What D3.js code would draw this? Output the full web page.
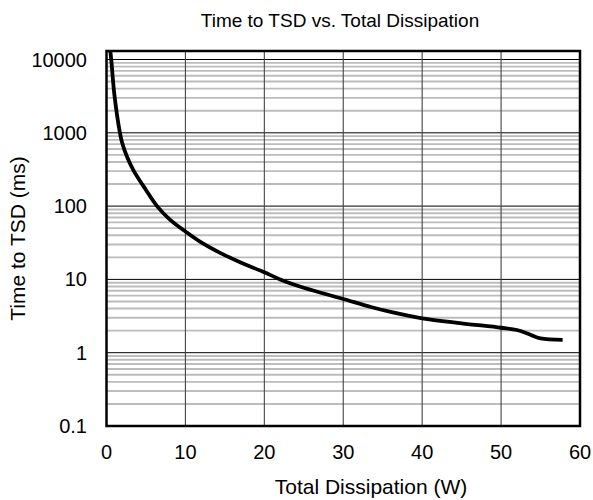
<!DOCTYPE html>
<html><head><meta charset="utf-8">
<script src="https://cdn.jsdelivr.net/npm/d3@7/dist/d3.min.js"></script>
<style>body{margin:0;background:#fff;} text{font-family:"Liberation Sans",Arial,sans-serif;fill:#000;}</style>
</head><body><svg id="c" width="593" height="500"></svg>
<script>
const power = [0.45, 0.6, 1.0, 1.7, 2.0, 2.6, 3.4, 5.0, 6.4, 8.0, 10, 12, 14.4, 17, 20, 22, 25, 30, 33.5, 36, 40, 45, 50, 52, 53.5, 55, 57.8];
const timeMs = [14000, 10000, 3300, 1000, 720, 470, 310, 166, 100, 66, 45, 32, 23, 17, 12.5, 10, 7.7, 5.4, 4.2, 3.6, 2.95, 2.52, 2.19, 2.04, 1.8, 1.57, 1.5];
const xTicks = [0, 10, 20, 30, 40, 50, 60];
const yTicks = [0.1, 1, 10, 100, 1000, 10000];
const yTickLabels = ["0.1", "1", "10", "100", "1000", "10000"];

const svg = d3.select("#c");
const L = 106.5, R = 580, B = 426, T = 51;
const x = d3.scaleLinear().domain([0, 60]).range([L, R]);
const decade = 73.3;
const y = d3.scaleLog().domain([0.1, 10000]).range([B, B - 5 * decade]);

// minor grid
const minors = [];
for (let d = 0.1; d < 10000; d *= 10) for (let k = 2; k <= 9; k++) minors.push(d * k);
svg.append("g").selectAll("line").data(minors).join("line")
  .attr("x1", L).attr("x2", R).attr("y1", d => y(d)).attr("y2", d => y(d))
  .attr("stroke", "#bcbcbc").attr("stroke-width", 1.9);
// major horizontal grid
svg.append("g").selectAll("line").data(yTicks.slice(1)).join("line")
  .attr("x1", L).attr("x2", R).attr("y1", d => y(d)).attr("y2", d => y(d))
  .attr("stroke", "#000").attr("stroke-width", 1);
// vertical grid
svg.append("g").selectAll("line").data(xTicks.slice(1, -1)).join("line")
  .attr("x1", d => x(d)).attr("x2", d => x(d)).attr("y1", T).attr("y2", B)
  .attr("stroke", "#444").attr("stroke-width", 1.1);

// curve
svg.append("clipPath").attr("id", "clip").append("rect")
  .attr("x", L).attr("y", T).attr("width", R - L).attr("height", B - T);
const line = d3.line().x((d, i) => x(power[i])).y((d, i) => y(timeMs[i])).curve(d3.curveCatmullRom.alpha(0.5));
svg.append("path").datum(power).attr("d", line).attr("clip-path", "url(#clip)")
  .attr("fill", "none").attr("stroke", "#000").attr("stroke-width", 3.8)
  .attr("stroke-linejoin", "round").attr("stroke-linecap", "butt");

// border
svg.append("rect").attr("x", L).attr("y", T).attr("width", R - L).attr("height", B - T)
  .attr("fill", "none").attr("stroke", "#000").attr("stroke-width", 2.5);

// tick labels
svg.append("g").selectAll("text").data(xTicks).join("text")
  .attr("x", d => x(d)).attr("y", 459).attr("text-anchor", "middle")
  .attr("font-size", 20).text(d => d);
svg.append("g").selectAll("text").data(yTicks).join("text")
  .attr("x", 87).attr("y", d => y(d) + 7).attr("text-anchor", "end")
  .attr("font-size", 20).text((d, i) => yTickLabels[i]);

svg.append("text").attr("x", 340).attr("y", 27).attr("text-anchor", "middle")
  .attr("font-size", 19).text("Time to TSD vs. Total Dissipation");
svg.append("text").attr("x", 371).attr("y", 494).attr("text-anchor", "middle")
  .attr("font-size", 21).text("Total Dissipation (W)");
svg.append("text").attr("transform", "translate(25,238.5) rotate(-90)").attr("text-anchor", "middle")
  .attr("font-size", 21).text("Time to TSD (ms)");
</script></body></html>
